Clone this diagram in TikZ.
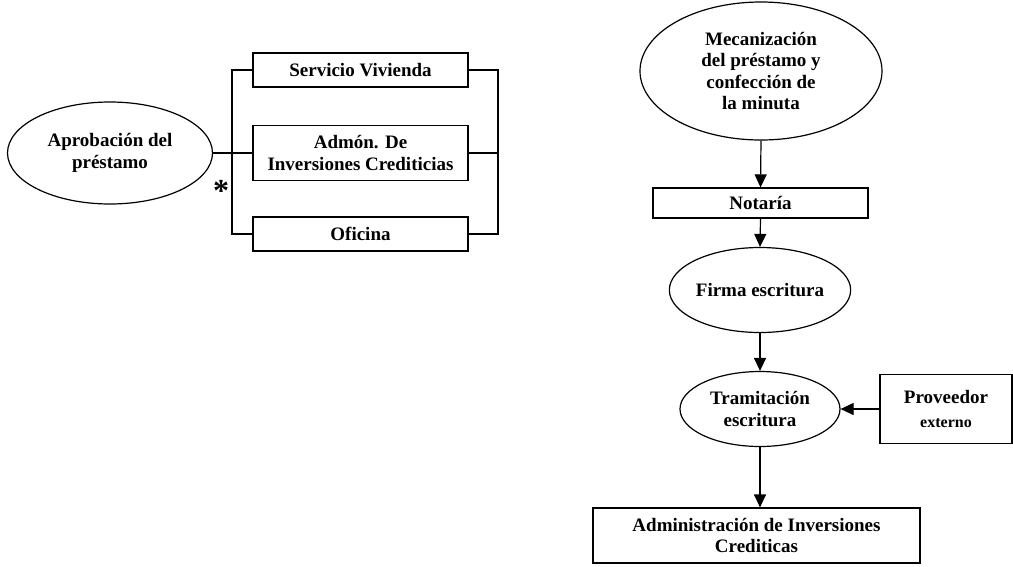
\documentclass[tikz,border=0pt]{standalone}
\usepackage{fontspec}
\setmainfont{Liberation Serif}
\usetikzlibrary{arrows.meta,shapes.geometric}
\begin{document}
\begin{tikzpicture}[x=1pt,y=-1pt,
  every node/.style={font=\bfseries\fontsize{19}{21.5}\selectfont, align=center, inner sep=0pt},
  oval/.style={draw, ellipse, line width=1.2pt},
  box/.style={draw, rectangle, line width=1.2pt},
  conn/.style={line width=1.2pt},
  arr/.style={line width=1.2pt, -{Triangle[width=12pt,length=13pt]}}]
\useasboundingbox (0,0) rectangle (1013,566);
% left group
\node[oval, minimum width=205pt, minimum height=102pt] (A) at (110,153) {Aprobación del\\préstamo};
\node[box, minimum width=215pt, minimum height=34pt] (SV) at (360.5,70) {Servicio Vivienda};
\node[box, minimum width=215pt, minimum height=55pt] (AD) at (360.5,153) {Admón. De\\Inversiones Crediticias};
\node[box, minimum width=215pt, minimum height=34pt] (OF) at (360.5,234) {Oficina};
\coordinate (bl) at (232,150);
\coordinate (br) at (498,150);
\draw[conn] (SV.west) -- (SV.west -| bl) -- (OF.west -| bl) -- (OF.west);
\draw[conn] (SV.east) -- (SV.east -| br) -- (OF.east -| br) -- (OF.east);
\draw[conn] (AD.east) -- (AD.east -| br);
\draw[conn] (A.east) -- (AD.west);
\node[font=\bfseries\fontsize{32}{32}\selectfont, anchor=base] (star) at (221,201) {*};
% right flow
\node[oval, minimum width=242pt, minimum height=138pt] (M) at (761,71) {Mecanización\\del préstamo y\\confección de\\la minuta};
\node[box, minimum width=215pt, minimum height=30pt] (N) at (760.5,203) {Notaría};
\node[oval, minimum width=164pt, minimum height=85pt] (F) at (760,290) {Firma escritura};
\node[oval, minimum width=160pt, minimum height=75pt] (T) at (760,409) {Tramitación\\escritura};
\node[box, minimum width=132pt, minimum height=69pt] (P) at (946,409) {Proveedor\\[2pt]{\fontsize{16}{18}\selectfont externo}};
\node[box, minimum width=327pt, minimum height=55pt] (AI) at (756.5,535.5) {Administración de Inversiones\\Crediticas};
\draw[arr] (M.south) -- (N.north);
\draw[arr] (N.south) -- (F.north);
\draw[arr] (F.south) -- (T.north);
\draw[arr] (T.south) -- (T.south |- AI.north);
\draw[arr] (P.west) -- (T.east);
\end{tikzpicture}
\end{document}
